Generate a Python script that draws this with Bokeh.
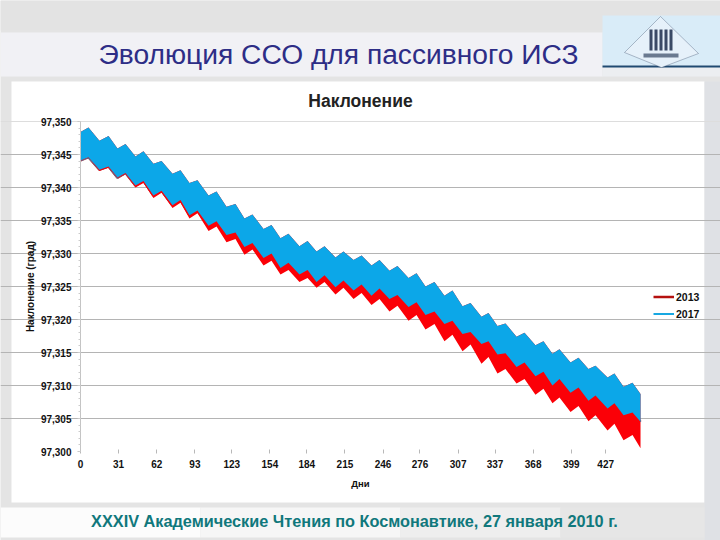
from bokeh.embed import file_html
from bokeh.resources import INLINE
from bokeh.plotting import figure
from bokeh.models import (BoxAnnotation, PolyAnnotation, Label, Legend, LegendItem,
                          ColumnDataSource, FixedTicker, LinearAxis, Grid, Range1d)

days = [0, 6.5, 15.4, 22.8, 30.1, 36.6, 44.7, 51.2, 59.3, 65.9, 74.8, 81.3, 88.6, 95.1, 104.1, 110.6,
        118.7, 126, 133.3, 139.8, 148.8, 155.3, 162.6, 169.1, 178, 184.6, 191.9, 198.4, 207.3, 213.8,
        222, 228.5, 236.6, 243.1, 251.2, 257.7, 266.7, 273.2, 280.5, 287.8, 295.9, 302.4, 310.6, 317.1,
        326, 331.7, 339, 345.5, 354.5, 361, 369.9, 376.4, 383.7, 389.4, 398.4, 404.9, 413, 418.7,
        428.5, 434.1, 441.5, 448.8, 455.3]

s2017_upper = [97.3484, 97.3491, 97.3471, 97.3478, 97.3459, 97.3466, 97.3447, 97.3455, 97.3436, 97.3440,
               97.3421, 97.3426, 97.3407, 97.3411, 97.3388, 97.3394, 97.3371, 97.3375, 97.3353, 97.3359,
               97.3337, 97.3343, 97.3323, 97.3330, 97.3311, 97.3319, 97.3303, 97.3311, 97.3294, 97.3303,
               97.3290, 97.3297, 97.3282, 97.3290, 97.3274, 97.3281, 97.3263, 97.3270, 97.3250, 97.3257,
               97.3236, 97.3244, 97.3220, 97.3225, 97.3204, 97.3210, 97.3190, 97.3194, 97.3174, 97.3180,
               97.3161, 97.3167, 97.3148, 97.3155, 97.3135, 97.3142, 97.3125, 97.3130, 97.3112, 97.3118,
               97.3098, 97.3104, 97.3087]

s2017_lower = [97.3441, 97.3446, 97.3427, 97.3432, 97.3415, 97.3422, 97.3403, 97.3410, 97.3388, 97.3395,
               97.3373, 97.3381, 97.3358, 97.3365, 97.3342, 97.3349, 97.3328, 97.3332, 97.3310, 97.3316,
               97.3293, 97.3300, 97.3278, 97.3286, 97.3268, 97.3275, 97.3257, 97.3267, 97.3249, 97.3259,
               97.3244, 97.3253, 97.3236, 97.3247, 97.3231, 97.3237, 97.3219, 97.3226, 97.3207, 97.3212,
               97.3193, 97.3198, 97.3178, 97.3181, 97.3163, 97.3167, 97.3147, 97.3149, 97.3128, 97.3135,
               97.3114, 97.3121, 97.3100, 97.3110, 97.3089, 97.3097, 97.3077, 97.3085, 97.3065, 97.3073,
               97.3055, 97.3059, 97.3045]

s2013_lower = [97.3440, 97.3445, 97.3425, 97.3430, 97.3414, 97.3420, 97.3400, 97.3407, 97.3384, 97.3392,
               97.3369, 97.3377, 97.3353, 97.3361, 97.3334, 97.3341, 97.3317, 97.3322, 97.3298, 97.3306,
               97.3282, 97.3289, 97.3268, 97.3275, 97.3257, 97.3263, 97.3248, 97.3257, 97.3238, 97.3248,
               97.3231, 97.3240, 97.3222, 97.3231, 97.3212, 97.3221, 97.3198, 97.3207, 97.3185, 97.3193,
               97.3167, 97.3177, 97.3152, 97.3162, 97.3133, 97.3143, 97.3118, 97.3125, 97.3103, 97.3110,
               97.3086, 97.3095, 97.3073, 97.3082, 97.3060, 97.3069, 97.3046, 97.3055, 97.3032, 97.3042,
               97.3017, 97.3025, 97.3005]

x_ticks = [0, 31, 62, 93, 123, 154, 184, 215, 246, 276, 307, 337, 368, 399, 427]
y_ticks = [97.30, 97.305, 97.31, 97.315, 97.32, 97.325, 97.33, 97.335, 97.34, 97.345, 97.35]
y_labels = ["97,300", "97,305", "97,310", "97,315", "97,320", "97,325", "97,330", "97,335", "97,340", "97,345", "97,350"]
y_minor = [97.30 + i * 0.001 for i in range(51)]
series_names = ["2013", "2017"]
chart_title = "Наклонение"
slide_title = "Эволюция ССО для пассивного ИСЗ"
footer = "XXXIV  Академические Чтения по Космонавтике,  27 января 2010 г."

W, H = 720, 540


def box(l, t, r, b, color, alpha=1.0):
    return BoxAnnotation(left=l, right=r, top=H - t, bottom=H - b,
                         left_units="screen", right_units="screen", top_units="screen", bottom_units="screen",
                         fill_color=color, fill_alpha=alpha, line_color=None, level="image")


def poly(pts, color, line=None):
    return PolyAnnotation(xs=[x for x, _ in pts], ys=[H - y for _, y in pts],
                          xs_units="screen", ys_units="screen", fill_color=color, fill_alpha=1,
                          line_color=line, line_width=1, level="image")


def text(x, y, s, size, color, bold=False, angle=0):
    return Label(x=x, y=H - y, x_units="screen", y_units="screen", text=s, angle=angle,
                 text_font="Liberation Sans", text_font_style="bold" if bold else "normal",
                 text_font_size=size, text_color=color, text_align="center", text_baseline="middle")


# The frame covers the whole canvas, so the slide's panels can be painted anywhere;
# the ranges keep the chart's own scale: 1.23 px per day, 6600 px per unit of inclination.
p = figure(width=W, height=H, min_border=0, x_axis_location=None, y_axis_location=None,
           x_range=Range1d(-80 / 1.23, 640 / 1.23),
           y_range=Range1d(97.35 - 419 / 6600, 97.35 + 121 / 6600),
           output_backend="svg", toolbar_location=None)
p.grid.visible = False
p.background_fill_color = "#e4e4e4"
p.border_fill_color = "#e4e4e4"
p.outline_line_color = None

for b in [
    box(0, 0, 720, 30, "#e3e3e3"),
    box(0, 32, 602, 76, "#f1f1f5"),
    box(602, 32, 720, 76, "#eceef1"),
    box(11, 81, 704, 502, "#ffffff"),
    box(704, 81, 720, 540, "#dfe1e5"),
    box(0, 507, 200, 537, "#fcfcfc"),
    box(200, 507, 400, 537, "#f6f6f6"),
    box(400, 507, 560, 537, "#eeeeee"),
    box(560, 507, 704, 537, "#e6e6e6"),
    box(602, 15, 720, 65, "#d9ecf8"),
    box(602, 65, 720, 67, "#1f4a72"),
]:
    p.add_layout(b)
p.add_layout(poly([(660, 16), (698, 53), (661, 67), (624, 52)], "#e6f1fa", "#1d3050"))
for bar in [(649, 652), (654, 657), (659, 662), (664, 667), (669, 672)]:
    p.add_layout(poly([(bar[0], 29), (bar[1], 29), (bar[1], 50), (bar[0], 50)], "#3a4a66"))
p.add_layout(poly([(643, 53), (678, 53), (678, 57), (643, 57)], "#6a7a90"))

xaxis = LinearAxis(fixed_location=97.30, ticker=FixedTicker(ticks=x_ticks), bounds=(0, 455.3),
                   axis_line_color=None, major_tick_line_color="#b8b8b8", major_tick_in=2, major_tick_out=2,
                   minor_tick_line_color=None, major_label_standoff=6,
                   axis_label="Дни", axis_label_standoff=7, axis_label_text_font_size="9.5px")
yaxis = LinearAxis(fixed_location=0, ticker=FixedTicker(ticks=y_ticks, minor_ticks=y_minor), bounds=(97.30, 97.35),
                   major_label_overrides=dict(zip(y_ticks, y_labels)),
                   axis_line_color="#c4c4c4", major_tick_line_color="#c4c4c4", minor_tick_line_color="#cccccc",
                   major_tick_in=0, major_tick_out=3, minor_tick_in=0, minor_tick_out=2, major_label_standoff=6,
                   axis_label="Наклонение (град)", axis_label_standoff=2, axis_label_text_font_size="10px")
for ax, side in ((xaxis, "below"), (yaxis, "left")):
    ax.major_label_text_font = "Liberation Sans"
    ax.major_label_text_font_style = "bold"
    ax.major_label_text_font_size = "10px"
    ax.major_label_text_color = "#111111"
    ax.axis_label_text_font = "Liberation Sans"
    ax.axis_label_text_font_style = "bold"
    ax.axis_label_text_color = "#111111"
    p.add_layout(ax, side)

p.add_layout(Grid(dimension=1, ticker=FixedTicker(ticks=y_ticks[:-1][1:]), bounds=(0, 455.3),
                  grid_line_color="#b4b4b4", grid_line_width=1.2))
p.add_layout(Grid(dimension=1, ticker=FixedTicker(ticks=y_ticks[-1:]), bounds=(0, 455.3),
                  grid_line_color="#dddddd", grid_line_width=1))

src = ColumnDataSource(dict(days=days, u17=s2017_upper, l17=s2017_lower, l13=s2013_lower))
# The two legend lines run under the bands, which cover them.
r13 = p.line(x="days", y="l17", source=src, line_color="#b5110f", line_width=2.5)
r17 = p.line(x="days", y="l17", source=src, line_color="#18a8e2", line_width=2)
p.varea(x="days", y1="l13", y2="u17", source=src, fill_color="#fb0007")
p.varea(x="days", y1="l17", y2="u17", source=src, fill_color="#0ca7e8")

legend = Legend(items=[LegendItem(label=series_names[0], renderers=[r13]),
                       LegendItem(label=series_names[1], renderers=[r17])],
                location=(653, 220), background_fill_alpha=0, border_line_color=None,
                label_text_font="Liberation Sans", label_text_font_style="bold", label_text_font_size="10.5px",
                label_text_color="#111111", glyph_width=21, glyph_height=13, label_standoff=2,
                spacing=4, padding=2, margin=0)
p.add_layout(legend)

p.add_layout(text(360, 100, chart_title, "17.5px", "#222222", bold=True))
p.add_layout(text(338, 53, slide_title, "28.2px", "#2d2d86"))
p.add_layout(text(358.5, 520, footer, "16.3px", "#10787c", bold=True))

open("out.html", "w").write(file_html(p, INLINE))
